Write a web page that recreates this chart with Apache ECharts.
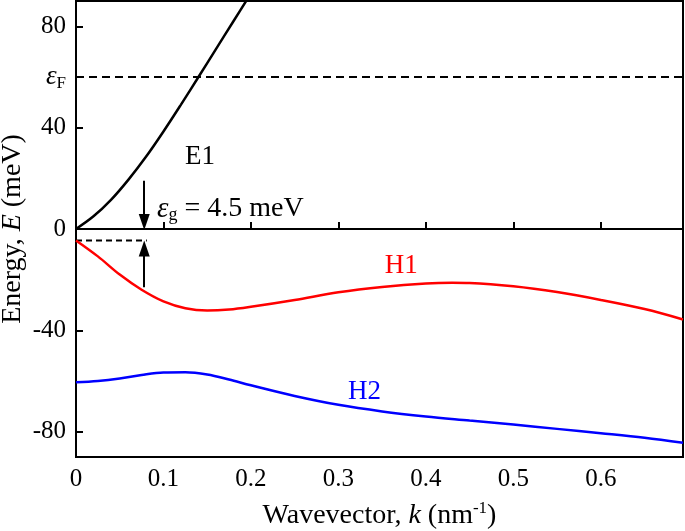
<!DOCTYPE html>
<html>
<head>
<meta charset="utf-8">
<script src="https://cdn.jsdelivr.net/npm/echarts@6/dist/echarts.min.js"></script>
<style>
html,body{margin:0;padding:0;background:#fff;}
#c{width:685px;height:531px;}
</style>
</head>
<body>
<div id="c"></div>
<script>
// ---- data ----
const kE1 = [0, 0.02, 0.04, 0.06, 0.08, 0.10, 0.12, 0.14, 0.16, 0.18, 0.20];
const E1  = [0, 5, 11.5, 19.5, 28.5, 38.5, 49.1, 60, 71, 82, 93];

const kH1 = [0, 0.025, 0.05, 0.075, 0.10, 0.125, 0.15, 0.175, 0.20, 0.25, 0.30, 0.35, 0.40, 0.43, 0.45, 0.50, 0.55, 0.60, 0.65, 0.694];
const H1  = [-4.5, -10.8, -18.0, -24.0, -28.6, -31.3, -32.2, -31.8, -30.7, -28.0, -25.0, -22.9, -21.5, -21.2, -21.3, -22.6, -24.9, -28.0, -31.6, -35.7];

const kH2 = [0, 0.025, 0.05, 0.075, 0.10, 0.125, 0.15, 0.175, 0.20, 0.25, 0.30, 0.35, 0.40, 0.45, 0.50, 0.55, 0.60, 0.65, 0.694];
const H2  = [-60.5, -60.0, -59.0, -57.6, -56.6, -56.5, -57.4, -59.4, -61.7, -65.9, -69.4, -72.0, -74.0, -75.6, -77.2, -78.9, -80.6, -82.4, -84.4];

const xTicks = [0, 0.1, 0.2, 0.3, 0.4, 0.5, 0.6];
const yTicks = [-80, -40, 0, 40, 80];
const xRange = [0, 0.694];
const yRange = [-90, 90];

const fermiEnergy = 60;
const gapTop = 0;
const gapBottom = -4.5;
const gapK = 0.081;
const arrowK = 0.078;
const arrowDownFrom = 19;
const arrowUpFrom = -23;

// label anchors [k, E] (left edge, vertical centre)
const labelE1 = [0.1246, 28.5];
const labelGap = [0.0926, 7.9];
const labelH1 = [0.353, -14.6];
const labelH2 = [0.311, -64.2];

// ---- chart ----
const FONT = 'Liberation Serif';
const zip = (a, b) => a.map((v, i) => [v, b[i]]);
const chart = echarts.init(document.getElementById('c'), null, {renderer: 'canvas'});

function textLabel(pos, fmt, color, size, rich) {
  return {
    type: 'scatter', silent: true, symbolSize: 0, z: 10,
    data: [pos],
    itemStyle: {opacity: 1, color: color},
    label: {
      show: true, position: 'right', distance: 0, opacity: 1,
      formatter: fmt, color: color, fontFamily: FONT, fontSize: size,
      rich: rich || {}
    }
  };
}

const option = {
  animation: false,
  backgroundColor: '#fff',
  grid: {left: 76, right: 2, top: 1, bottom: 74, containLabel: false, outerBoundsMode: 'none',
    show: true, borderColor: '#000', borderWidth: 2, backgroundColor: 'transparent'},
  xAxis: {
    type: 'value', min: xRange[0], max: xRange[1],
    name: '{n|Wavevector, }{i|k}{n| (nm}{s|-1}{n|)}',
    nameLocation: 'middle', nameGap: 43, nameMoveOverlap: false,
    nameTextStyle: {
      rich: {
        n: {fontFamily: FONT, fontSize: 28, color: '#000', lineHeight: 32},
        i: {fontFamily: FONT, fontSize: 28, fontStyle: 'italic', color: '#000', lineHeight: 32},
        s: {fontFamily: FONT, fontSize: 17, color: '#000', verticalAlign: 'top', lineHeight: 32}
      }
    },
    axisLine: {show: true, lineStyle: {color: '#000', width: 2}},
    axisTick: {show: true, inside: true, length: 7, lineStyle: {color: '#000', width: 2}, customValues: xTicks.filter(v => v > 0)},
    axisLabel: {show: true, customValues: xTicks, fontFamily: FONT, fontSize: 25, color: '#000', margin: 10,
      formatter: v => String(+v.toFixed(2))},
    splitLine: {show: false}
  },
  yAxis: {
    type: 'value', min: yRange[0], max: yRange[1],
    name: '{n|Energy, }{i|E}{n| (meV)}',
    nameLocation: 'middle', nameGap: 47, nameRotate: 90, nameMoveOverlap: false,
    nameTextStyle: {
      rich: {
        n: {fontFamily: FONT, fontSize: 28, color: '#000', lineHeight: 32},
        i: {fontFamily: FONT, fontSize: 28, fontStyle: 'italic', color: '#000', lineHeight: 32}
      }
    },
    axisLine: {show: true, lineStyle: {color: '#000', width: 2}},
    axisTick: {show: true, inside: true, length: 7, lineStyle: {color: '#000', width: 2}, customValues: yTicks},
    axisLabel: {show: true, customValues: yTicks.concat([fermiEnergy]), fontFamily: FONT, fontSize: 25, color: '#000', margin: 10,
      formatter: v => v === fermiEnergy ? '{e|ε}{f|F}' : String(v),
      rich: {
        e: {fontFamily: FONT, fontSize: 27, fontStyle: 'italic', color: '#000', lineHeight: 30},
        f: {fontFamily: FONT, fontSize: 17, color: '#000', verticalAlign: 'bottom', lineHeight: 30}
      }
    },
    splitLine: {show: false}
  },
  series: [
    {
      name: 'E1', type: 'line', data: zip(kE1, E1), smooth: 0.35, showSymbol: false, clip: true,
      lineStyle: {color: '#000', width: 2.5}, z: 5
    },
    {
      name: 'H1', type: 'line', data: zip(kH1, H1), smooth: 0.35, showSymbol: false, clip: true,
      lineStyle: {color: '#ff0000', width: 2.5}, z: 5
    },
    {
      name: 'H2', type: 'line', data: zip(kH2, H2), smooth: 0.35, showSymbol: false, clip: true,
      lineStyle: {color: '#0000ff', width: 2.5}, z: 5
    },
    {
      name: 'gapline', type: 'line', data: [[0, gapBottom], [gapK, gapBottom]], showSymbol: false,
      lineStyle: {color: '#000', width: 2, type: [6, 4]}, z: 4,
      markLine: {
        silent: true, animation: false,
        label: {show: false},
        data: [
          [{coord: [0, fermiEnergy], symbol: 'none', lineStyle: {type: [8, 5], color: '#000', width: 2}},
           {coord: [xRange[1], fermiEnergy], symbol: 'none'}],
          [{coord: [0, 0], symbol: 'none', lineStyle: {type: 'solid', color: '#000', width: 2}},
           {coord: [xRange[1], 0], symbol: 'none'}],
          [{coord: [arrowK, arrowDownFrom], symbol: 'none', lineStyle: {type: 'solid', color: '#000', width: 2}},
           {coord: [arrowK, gapTop + 2.8], symbol: 'triangle', symbolSize: [11, 16]}],
          [{coord: [arrowK, arrowUpFrom], symbol: 'none', lineStyle: {type: 'solid', color: '#000', width: 2}},
           {coord: [arrowK, gapBottom - 3.2], symbol: 'triangle', symbolSize: [11, 16]}]
        ],
        symbol: ['none', 'triangle'],
        itemStyle: {color: '#000'}
      }
    },
    textLabel(labelE1, 'E1', '#000', 27),
    textLabel(labelGap, '{e|ε}{g|g}{n| = 4.5 meV}', '#000', 28, {
      e: {fontFamily: FONT, fontSize: 29, fontStyle: 'italic', color: '#000', lineHeight: 30},
      g: {fontFamily: FONT, fontSize: 18, color: '#000', verticalAlign: 'bottom', lineHeight: 30},
      n: {fontFamily: FONT, fontSize: 28, color: '#000', lineHeight: 30}
    }),
    textLabel(labelH1, 'H1', '#ff0000', 27),
    textLabel(labelH2, 'H2', '#0000ff', 27)
  ]
};
chart.setOption(option);
</script>
</body>
</html>
